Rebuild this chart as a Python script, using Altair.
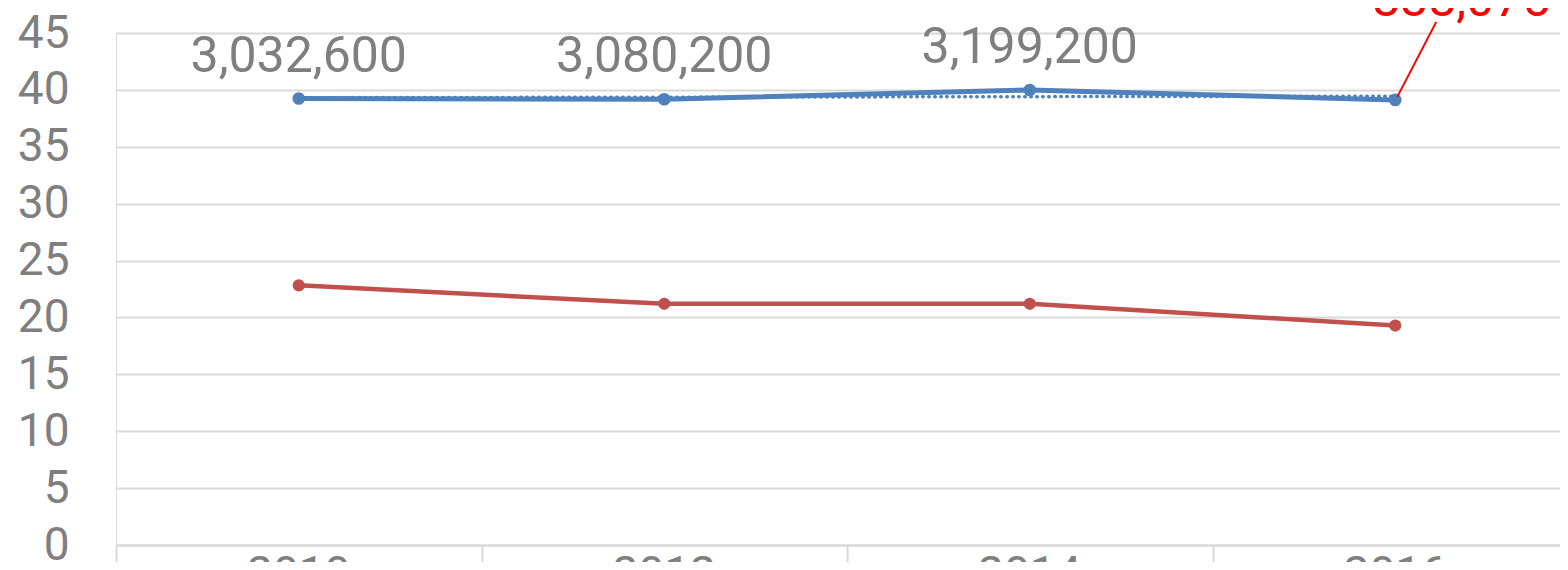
import altair as alt
import pandas as pd

years = [2010, 2012, 2014, 2016]
year_labels = ["2010", "2012", "2014", "2016"]
blue_values = [39.24, 39.18, 39.99, 39.12]
red_values = [22.82, 21.2, 21.2, 19.29]
blue_labels = ["3,032,600", "3,080,200", "3,199,200", ""]
callout_label = ["", "", "", "838,075"]
y_ticks = [0, 5, 10, 15, 20, 25, 30, 35, 40, 45]
x_ticks = [2009, 2011, 2013, 2015]

blue_df = pd.DataFrame({"year": years, "value": blue_values, "label": blue_labels, "callout": callout_label})
red_df = pd.DataFrame({"year": years, "value": red_values})
year_df = pd.DataFrame({"year": years, "label": year_labels})

BLUE = "#4f81bd"
RED = "#c0504d"
GRAY = "#7f7f7f"
GRID = "#d9d9d9"
FONT = "Roboto"

x_scale = alt.Scale(domain=[2009, 2016.9015], nice=False, zero=False)
y_scale = alt.Scale(domain=[0, 45], nice=False)

x_enc = alt.X("year:Q", scale=x_scale, axis=alt.Axis(
    values=x_ticks, labels=False, grid=False, title=None,
    domainColor=GRID, domainWidth=2, tickColor=GRID, tickWidth=2, tickSize=25))
y_enc = alt.Y("value:Q", scale=y_scale, axis=alt.Axis(
    values=y_ticks, grid=True, gridColor=GRID, gridWidth=2, domain=False,
    ticks=False, tickSize=0, labelFontSize=46, labelColor=GRAY, labelFont=FONT,
    labelFontWeight=400, labelPadding=47, title=None))

red_line = alt.Chart(red_df).mark_line(color=RED, strokeWidth=4.5).encode(x=x_enc, y=y_enc)
red_pts = alt.Chart(red_df).mark_point(color=RED, filled=True, size=150, opacity=1).encode(x="year:Q", y="value:Q")

blue_line = alt.Chart(blue_df).mark_line(color=BLUE, strokeWidth=5).encode(x="year:Q", y="value:Q")
blue_pts = alt.Chart(blue_df).mark_point(color=BLUE, filled=True, size=160, opacity=1).encode(x="year:Q", y="value:Q")
trend = alt.Chart(blue_df).transform_regression("year", "value").mark_line(
    color=BLUE, strokeWidth=3.5, strokeDash=[0.5, 5.5], strokeCap="round").encode(x="year:Q", y="value:Q")

blue_text = alt.Chart(blue_df).mark_text(
    font=FONT, fontWeight=400, fontSize=50, color=GRAY, baseline="alphabetic", dy=-27
).encode(x="year:Q", y="value:Q", text="label:N")

callout_df = blue_df[blue_df["callout"] != ""]
leader = alt.Chart(callout_df).mark_rule(color="#ff0000", strokeWidth=2, xOffset=2, yOffset=-3, x2Offset=41, y2Offset=-78).encode(
    x="year:Q", y="value:Q", x2="year:Q", y2="value:Q")
callout = alt.Chart(callout_df).mark_text(
    font=FONT, fontWeight=400, fontSize=50, color="#ff0000", baseline="alphabetic", dx=66, dy=-84
).encode(x="year:Q", y="value:Q", text="callout:N")

year_text = alt.Chart(year_df).mark_text(
    font=FONT, fontWeight=400, fontSize=46, color=GRAY, baseline="alphabetic"
).encode(x="year:Q", y=alt.value(556), text="label:N")

chart = alt.layer(
    red_line, red_pts, blue_line, trend, blue_pts, blue_text, leader, callout, year_text
).properties(
    width=1444, height=512,
    autosize=alt.AutoSizeParams(type="none"),
    padding={"left": 108, "top": 25, "right": 0, "bottom": 17},
).configure_view(stroke=None).configure(background="white")

chart.save("out.html", embed_options={"renderer": "svg", "actions": False})
